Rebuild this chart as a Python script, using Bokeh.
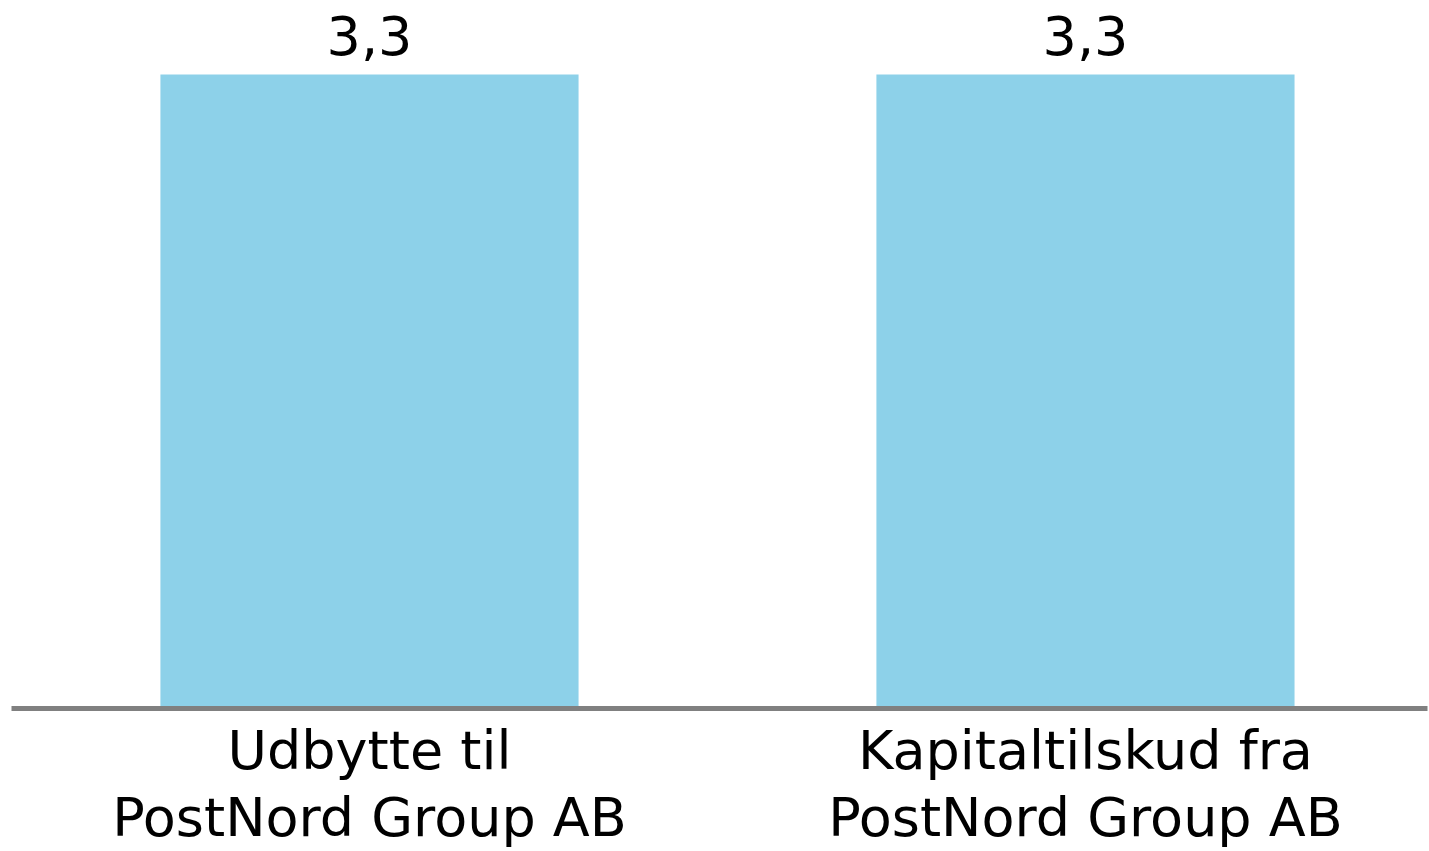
from bokeh.plotting import figure
from bokeh.models import Range1d, FixedTicker, ColumnDataSource
from bokeh.core.properties import value
from bokeh.embed import file_html
from bokeh.resources import INLINE

categories = ["Udbytte til\nPostNord Group AB", "Kapitaltilskud fra\nPostNord Group AB"]
values = [3.3, 3.3]
value_labels = ["3,3", "3,3"]

idx = list(range(len(categories)))
src = ColumnDataSource(dict(x=idx, top=values, lab=value_labels))

FONT = "DejaVu Sans"

p = figure(width=1429, height=851, output_backend="svg", toolbar_location=None,
           x_range=Range1d(-0.5, 1.4777), y_range=Range1d(0, 3.685),
           min_border_left=11, min_border_right=2, min_border_top=0, min_border_bottom=143)
p.outline_line_color = None
p.background_fill_color = "white"
p.border_fill_color = "white"
p.grid.visible = False
p.yaxis.visible = False

p.vbar(x="x", top="top", width=0.584, bottom=0, source=src,
       fill_color="#8DD1E9", line_color=None)

p.text(x="x", y="top", text="lab", source=src, text_align="center",
       text_baseline="alphabetic", y_offset=-39, text_font=value(FONT),
       text_font_size="54px", text_color="#000000")

ax = p.xaxis[0]
ax.ticker = FixedTicker(ticks=idx)
ax.major_label_overrides = {i: c for i, c in zip(idx, categories)}
ax.axis_line_color = "#808080"
ax.axis_line_width = 5
ax.major_tick_line_color = None
ax.minor_tick_line_color = None
ax.major_label_text_font = FONT
ax.major_label_text_font_size = "54px"
ax.major_label_text_line_height = 1.07
ax.major_label_text_color = "#000000"
ax.major_label_standoff = 4

open("out.html", "w").write(file_html(p, INLINE))
